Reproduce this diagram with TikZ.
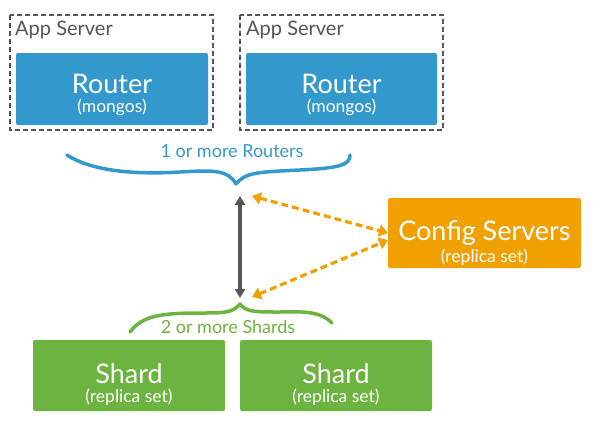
\documentclass[tikz,border=0pt]{standalone}
\usepackage{fontspec}
\setmainfont{Lato}
\usetikzlibrary{arrows.meta}
\definecolor{rblue}{RGB}{51,153,204}
\definecolor{cfgorange}{RGB}{240,160,0}
\definecolor{sgreen}{RGB}{109,179,63}
\definecolor{dgray}{RGB}{85,85,85}
\tikzset{
  appbox/.style={draw=dgray, line width=1.3pt, dash pattern=on 5pt off 3pt},
  box/.style={rounded corners=2pt},
  big/.style={font=\fontsize{27}{29}\selectfont, text=white, anchor=base, inner sep=0pt},
  sub/.style={font=\fontsize{17.5}{19}\selectfont, text=white, anchor=base, inner sep=0pt},
  lbl/.style={font=\fontsize{20}{22}\selectfont, text=dgray, anchor=base west, inner sep=0pt},
  bl/.style={font=\fontsize{18}{20}\selectfont, anchor=base, inner sep=0pt},
  dblarrow/.style={dgray, line width=3.5pt, {Triangle[length=9pt,width=10pt]}-{Triangle[length=9pt,width=10pt]}},
  cfgarrow/.style={cfgorange, line width=3.2pt, dash pattern=on 7pt off 4pt, {Triangle[length=9pt,width=12pt]}-{Triangle[length=9pt,width=12pt]}},
  brace/.style={line width=3.5pt, line cap=round, line join=round}
}
\begin{document}
\begin{tikzpicture}[x=1pt,y=-1pt]
\useasboundingbox (0,0) rectangle (593,421);
% app servers
\draw[appbox] (10,15) rectangle (213,130);
\draw[appbox] (240,15) rectangle (443,130);
\node[lbl] (as1) at (15,35) {App Server};
\node[lbl] (as2) at (246,35) {App Server};
% routers
\path[box, fill=rblue] (16,53) rectangle (208,125);
\node[big] (r1) at (112,93) {Router};
\node[sub] (r1s) at (112,112) {(mongos)};
\path[box, fill=rblue] (246,53) rectangle (437,125);
\node[big] (r2) at (341.5,93) {Router};
\node[sub] (r2s) at (341.5,112) {(mongos)};
% blue brace
\draw[brace, rblue] (67,155) .. controls (90,170) and (130,175) .. (180,172)
  .. controls (215,170) and (228,170) .. (236,184) coordinate (btip)
  .. controls (245,172) and (260,172) .. (300,170)
  .. controls (340,168) and (350,165) .. (350,155);
\node[bl, text=rblue] (rl) at (232,157) {1 or more Routers};
% green brace
\draw[brace, sgreen] (130,332) .. controls (142,316) and (160,313) .. (200,313)
  .. controls (225,313) and (232,313) .. (240,304) coordinate (gtip)
  .. controls (246,312) and (255,312) .. (280,312)
  .. controls (310,311) and (322,313) .. (332,323);
\node[bl, text=sgreen] (sl) at (228,333) {2 or more Shards};
% config servers
\path[box, fill=cfgorange] (388,198) rectangle (581,268);
\node[big] (cfg) at (484.5,240) {Config Servers};
\node[sub] (cfgs) at (484.5,262) {(replica set)};
\coordinate (cfgw1) at (388,233);
\coordinate (cfgw2) at (388,240);
% shards
\path[box, fill=sgreen] (33,340) rectangle (225,411);
\node[big] (s1) at (129,383) {Shard};
\node[sub] (s1s) at (129,402) {(replica set)};
\path[box, fill=sgreen] (240,340) rectangle (432,411);
\node[big] (s2) at (336,383) {Shard};
\node[sub] (s2s) at (336,402) {(replica set)};
% arrows
\coordinate (atop) at (240,196);
\coordinate (abot) at (240,298);
\draw[dblarrow] (atop) -- (abot);
\coordinate (o1) at (252,196);
\coordinate (o2) at (252,297);
\draw[cfgarrow] (o1) -- (cfgw1);
\draw[cfgarrow] (o2) -- (cfgw2);
\end{tikzpicture}
\end{document}
